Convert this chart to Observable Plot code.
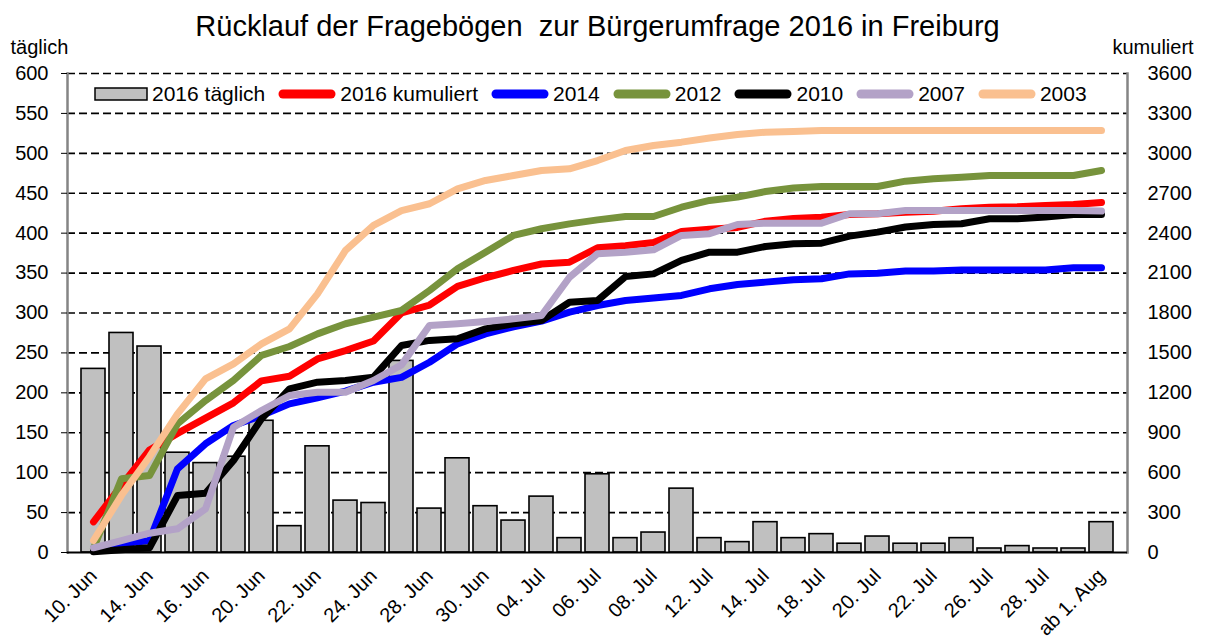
<!DOCTYPE html>
<html>
<head>
<meta charset="utf-8">
<script src="https://cdn.jsdelivr.net/npm/d3@7"></script>
<script src="https://cdn.jsdelivr.net/npm/@observablehq/plot@0.6"></script>
<style>
  body { margin: 0; background: #fff; font-family: "Liberation Sans", Arial, sans-serif; }
  #wrap { position: relative; width: 1208px; height: 642px; }
  #legend { position: absolute; left: 94px; top: 82px; display: flex; align-items: center; font-size: 21px; color: #000; line-height: 24px; }
  #legend .item { display: flex; align-items: center; margin-right: 13px; }
  #legend svg { margin-right: 4px; display: block; }
</style>
</head>
<body>
<div id="wrap"><div id="legend"></div></div>
<script>
const title = "Rücklauf der Fragebögen  zur Bürgerumfrage 2016 in Freiburg";
const leftAxisTitle = "täglich";
const rightAxisTitle = "kumuliert";

const categories = [
  "10. Jun","13. Jun","14. Jun","15. Jun","16. Jun","17. Jun","20. Jun","21. Jun","22. Jun","23. Jun",
  "24. Jun","27. Jun","28. Jun","29. Jun","30. Jun","01. Jul","04. Jul","05. Jul","06. Jul","07. Jul",
  "08. Jul","11. Jul","12. Jul","13. Jul","14. Jul","15. Jul","18. Jul","19. Jul","20. Jul","21. Jul",
  "22. Jul","25. Jul","26. Jul","27. Jul","28. Jul","29. Jul","ab 1. Aug"
];
const xTickLabels = [
  "10. Jun","14. Jun","16. Jun","20. Jun","22. Jun","24. Jun","28. Jun","30. Jun","04. Jul","06. Jul",
  "08. Jul","12. Jul","14. Jul","18. Jul","20. Jul","22. Jul","26. Jul","28. Jul","ab 1. Aug"
];
const leftTicks = [0,50,100,150,200,250,300,350,400,450,500,550,600];
const rightTicks = [0,300,600,900,1200,1500,1800,2100,2400,2700,3000,3300,3600];

const daily2016 = [230,275,258,125,112,120,165,33,133,65,62,240,55,118,58,40,70,18,98,18,25,80,18,13,38,18,23,11,20,11,11,18,5,8,5,5,38];

const cum2016 = [230,505,770,895,1010,1125,1290,1325,1455,1518,1590,1800,1860,2000,2065,2120,2168,2182,2290,2305,2330,2412,2430,2443,2490,2510,2520,2540,2546,2558,2565,2583,2595,2598,2608,2616,2630];
const cum2014 = [15,65,90,629,817,955,1030,1117,1163,1213,1280,1316,1430,1568,1643,1696,1739,1806,1856,1894,1912,1932,1982,2014,2032,2050,2057,2094,2099,2115,2115,2124,2124,2124,2124,2140,2140];
const cum2012 = [30,554,578,967,1142,1293,1481,1548,1643,1719,1769,1819,1969,2132,2257,2383,2433,2470,2500,2525,2525,2595,2646,2671,2713,2740,2751,2751,2751,2791,2809,2821,2833,2833,2833,2833,2871];
const cum2010 = [5,20,35,428,446,691,1005,1230,1280,1293,1318,1556,1594,1606,1681,1719,1744,1881,1894,2074,2094,2195,2257,2257,2300,2320,2325,2378,2408,2446,2465,2471,2508,2508,2521,2541,2541];
const cum2007 = [35,90,145,178,328,942,1067,1180,1205,1205,1293,1410,1706,1719,1736,1756,1781,2069,2245,2257,2275,2383,2396,2465,2475,2475,2475,2546,2546,2571,2571,2571,2571,2571,2571,2571,2566];
const cum2003 = [90,430,720,1042,1305,1418,1568,1681,1944,2270,2458,2570,2621,2733,2796,2833,2871,2884,2946,3021,3059,3084,3115,3142,3159,3165,3172,3172,3172,3172,3172,3172,3172,3172,3172,3172,3172];

const seriesNames = ["2016 kumuliert","2014","2012","2010","2007","2003"];
const seriesColors = ["#FF0000","#0000FF","#77933C","#000000","#B3A2C7","#FAC090"];
const seriesValues = [cum2016, cum2014, cum2012, cum2010, cum2007, cum2003];
const barName = "2016 täglich";
const barColor = "#C0C0C0";

const RATIO = 6; // right axis (kumuliert) = 6 x left axis (täglich)

const barRows = categories.map((c, i) => ({c, v: daily2016[i]}));

const lineMarks = seriesValues.map((vals, k) =>
  Plot.line(categories.map((c, i) => ({c, v: vals[i]})), {
    x: "c", y: d => d.v / RATIO,
    stroke: seriesColors[k], strokeWidth: 7,
    strokeLinecap: "round", strokeLinejoin: "round"
  })
);

const chart = Plot.plot({
  width: 1208, height: 642,
  marginTop: 73, marginBottom: 90, marginLeft: 67, marginRight: 81,
  style: {fontFamily: "'Liberation Sans', Arial, sans-serif", fontSize: "20px", color: "#000", background: "#fff", overflow: "visible"},
  x: {type: "band", domain: categories, paddingInner: 0.16, paddingOuter: 0.08, label: null},
  y: {domain: [0, 600], label: null},
  marks: [
    Plot.ruleY(leftTicks.filter(t => t > 0), {stroke: "#000", strokeWidth: 1.7, strokeDasharray: "8,4"}),
    Plot.frame({anchor: "left", stroke: "#858585", strokeWidth: 2.5}),
    Plot.frame({anchor: "right", stroke: "#858585", strokeWidth: 2.5}),
    Plot.barY(barRows, {x: "c", y: "v", fill: barColor, stroke: "#000", strokeWidth: 1.6}),
    ...lineMarks,
    Plot.ruleY([0], {stroke: "#000", strokeWidth: 2.2}),
    Plot.axisY(leftTicks, {anchor: "left", tickSize: 6, tickPadding: 13, label: null, stroke: "#000"}),
    Plot.axisY(rightTicks.map(v => v / RATIO), {anchor: "right", tickSize: 0, tickPadding: 20, label: null, tickFormat: d => String(Math.round(d * RATIO))}),
    Plot.axisX(xTickLabels, {anchor: "bottom", tickSize: 0, tickPadding: 20, tickRotate: -45, label: null}),
    Plot.text([title], {text: d => d, frameAnchor: "top", dy: -38, fontSize: 29, lineAnchor: "bottom"}),
    Plot.text([leftAxisTitle], {text: d => d, frameAnchor: "top-left", dx: -57, dy: -20, fontSize: 20, textAnchor: "start", lineAnchor: "bottom"}),
    Plot.text([rightAxisTitle], {text: d => d, frameAnchor: "top-right", dx: -15, dy: -20, fontSize: 20, textAnchor: "start", lineAnchor: "bottom"})
  ]
});

const wrap = document.getElementById("wrap");
wrap.insertBefore(chart, wrap.firstChild);

// Legend
const legend = d3.select("#legend");
const barItem = legend.append("div").attr("class", "item");
const bs = barItem.append("svg").attr("width", 54).attr("height", 14);
bs.append("rect").attr("x", 1).attr("y", 1).attr("width", 52).attr("height", 12).attr("fill", barColor).attr("stroke", "#000").attr("stroke-width", 1.5);
barItem.append("span").text(barName);
seriesNames.forEach((name, k) => {
  const it = legend.append("div").attr("class", "item");
  const s = it.append("svg").attr("width", 58).attr("height", 12);
  s.append("line").attr("x1", 5).attr("x2", 53).attr("y1", 6).attr("y2", 6)
    .attr("stroke", seriesColors[k]).attr("stroke-width", 9).attr("stroke-linecap", "round");
  it.append("span").text(name);
});
</script>
</body>
</html>
